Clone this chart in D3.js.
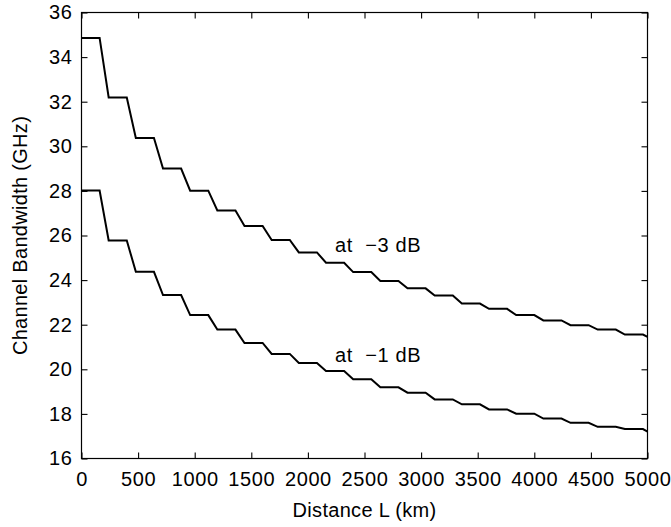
<!DOCTYPE html>
<html>
<head>
<meta charset="utf-8">
<script src="https://cdn.jsdelivr.net/npm/d3@7"></script>
<style>
  html, body { margin: 0; padding: 0; background: #fff; }
  svg { display: block; }
  text { font-family: "Liberation Sans", Arial, Helvetica, sans-serif; fill: #000; }
</style>
</head>
<body>
<svg id="chart" width="671" height="527"></svg>
<script>
// ---- data ----
const distanceKm = [0,160,240,400,480,640,720,880,960,1120,1200,1360,1440,1600,1680,1840,1920,2080,2160,2320,2400,2560,2640,2800,2880,3040,3120,3280,3360,3520,3600,3760,3840,4000,4080,4240,4320,4480,4560,4720,4800,4960,5000];
const bandwidth3dB = [34.86,34.86,32.19,32.19,30.37,30.37,29.0,29.0,28.01,28.01,27.12,27.12,26.43,26.43,25.80,25.80,25.24,25.24,24.78,24.78,24.36,24.36,23.96,23.96,23.63,23.63,23.31,23.31,22.95,22.95,22.71,22.71,22.43,22.43,22.19,22.19,21.98,21.98,21.78,21.78,21.56,21.56,21.45];
const bandwidth1dB = [28.02,28.02,25.78,25.78,24.37,24.37,23.33,23.33,22.43,22.43,21.78,21.78,21.18,21.18,20.69,20.69,20.28,20.28,19.92,19.92,19.55,19.55,19.19,19.19,18.95,18.95,18.65,18.65,18.43,18.43,18.20,18.20,18.01,18.01,17.79,17.79,17.60,17.60,17.42,17.42,17.32,17.32,17.21];
const xTicks = [0,500,1000,1500,2000,2500,3000,3500,4000,4500,5000];
const yTicks = [16,18,20,22,24,26,28,30,32,34,36];
const seriesLabels = ["at  \u22123 dB", "at  \u22121 dB"];
const xTitle = "Distance L (km)";
const yTitle = "Channel Bandwidth (GHz)";

(function () {
// ---- layout ----
const svg = d3.select("#chart");
const pL = 81.5, pR = 647.5, pT = 12.5, pB = 458.5;
const x = d3.scaleLinear().domain([0, 5000]).range([pL, pR]);
const y = d3.scaleLinear().domain([16, 36]).range([pB, pT]);
const fontSize = 20;
const tickLen = 6;

// frame
svg.append("rect")
  .attr("x", pL).attr("y", pT)
  .attr("width", pR - pL).attr("height", pB - pT)
  .attr("fill", "none").attr("stroke", "#000").attr("stroke-width", 1.2);

// axes (ticks inside, MATLAB style)
const xAxisB = d3.axisBottom(x).tickValues(xTicks).tickSizeInner(-tickLen).tickSizeOuter(0).tickPadding(12).tickFormat(d3.format("d"));
const gxb = svg.append("g").attr("transform", `translate(0,${pB})`).call(xAxisB);
const xAxisT = d3.axisTop(x).tickValues(xTicks).tickSizeInner(-tickLen).tickSizeOuter(0).tickFormat("");
const gxt = svg.append("g").attr("transform", `translate(0,${pT})`).call(xAxisT);
const yAxisL = d3.axisLeft(y).tickValues(yTicks).tickSizeInner(-tickLen).tickSizeOuter(0).tickPadding(9).tickFormat(d3.format("d"));
const gyl = svg.append("g").attr("transform", `translate(${pL},0)`).call(yAxisL);
const yAxisR = d3.axisRight(y).tickValues(yTicks).tickSizeInner(-tickLen).tickSizeOuter(0).tickFormat("");
const gyr = svg.append("g").attr("transform", `translate(${pR},0)`).call(yAxisR);

[gxb, gxt, gyl, gyr].forEach(g => {
  g.select(".domain").remove();
  g.selectAll(".tick line").attr("stroke", "#000").attr("stroke-width", 1.1);
  g.selectAll("text").attr("font-size", fontSize)
    .attr("font-family", "'Liberation Sans', Arial, sans-serif")
    .style("letter-spacing", "0.6px").attr("fill", "#000");
});
gxb.selectAll("text").attr("dy", "0.78em");

// lines
const line = d3.line().x((d, i) => x(distanceKm[i])).y(d => y(d));
[bandwidth3dB, bandwidth1dB].forEach(vals => {
  svg.append("path")
    .datum(vals)
    .attr("d", line)
    .attr("fill", "none")
    .attr("stroke", "#000")
    .attr("stroke-width", 2)
    .attr("stroke-linejoin", "miter");
});

// series labels
const labelPos = [{d: 2240, v: 25.27}, {d: 2240, v: 20.34}];
seriesLabels.forEach((t, i) => {
  svg.append("text")
    .attr("x", x(labelPos[i].d))
    .attr("y", y(labelPos[i].v))
    .attr("font-size", fontSize)
    .attr("xml:space", "preserve")
    .style("white-space", "pre")
    .style("letter-spacing", "0.6px")
    .text(t);
});

// axis titles
svg.append("text")
  .attr("x", (pL + pR) / 2)
  .attr("y", 517)
  .attr("text-anchor", "middle")
  .attr("font-size", fontSize)
  .style("letter-spacing", "0.3px")
  .text(xTitle);

svg.append("text")
  .attr("transform", `translate(27,${(pT + pB) / 2}) rotate(-90)`)
  .attr("text-anchor", "middle")
  .attr("font-size", fontSize)
  .style("letter-spacing", "0.3px")
  .text(yTitle);
})();
</script>
</body>
</html>
